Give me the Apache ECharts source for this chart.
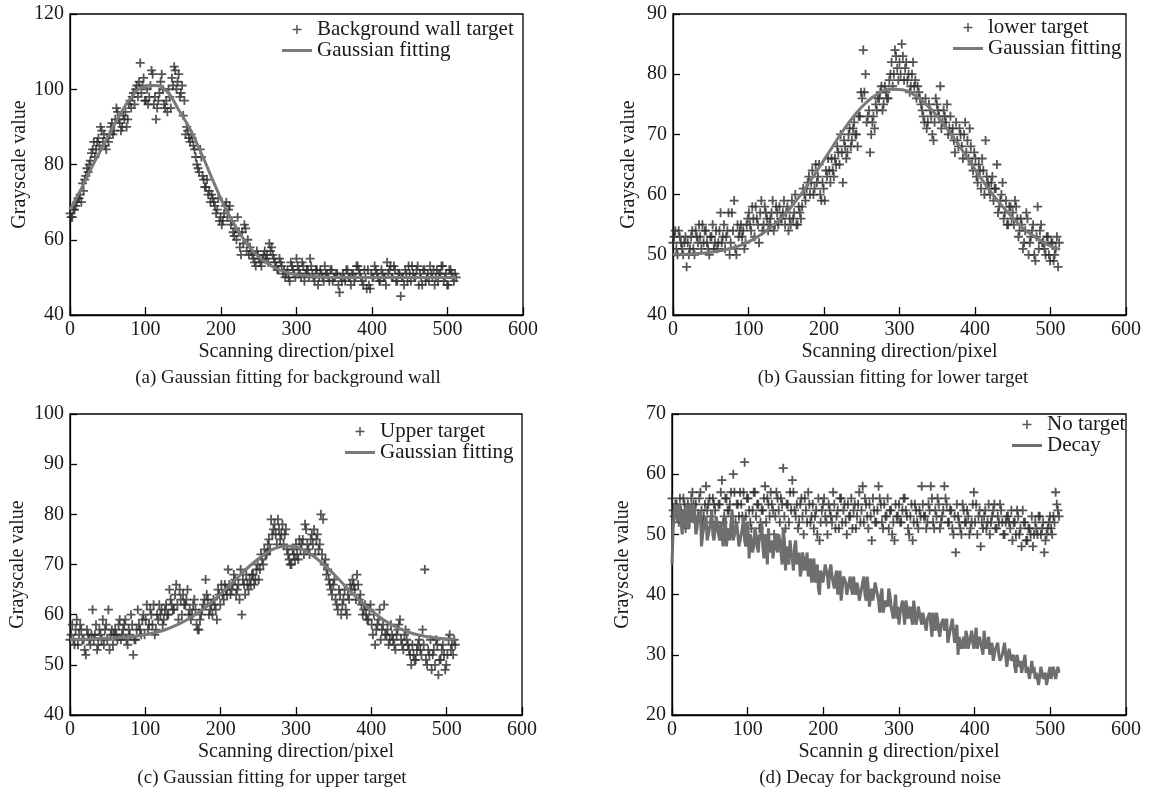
<!DOCTYPE html>
<html><head><meta charset="utf-8">
<script src="https://cdn.jsdelivr.net/npm/echarts@6/dist/echarts.min.js"></script>
<style>html,body{margin:0;padding:0;background:#fff}#c{width:1155px;height:798px}</style>
</head><body><div id="c"></div>
<script>
// sampling along the scanning direction (pixel)
const SCAN_STEP = 3;      // A samples at x = 0,3,...,510 ; B samples at x = 1.5,4.5,...,511.5
const SCAN_OFFSET_B = 1.5;
const FIT_STEP = 16;      // fitted curve samples: x = 0,16,...,512

const xTickLabels = ['0','100','200','300','400','500','600'];

// (a) Background wall target
const wallTargetA = [
67,66,68,70,71,70,73,77,78,81,
84,82,86,85,89,88,84,86,90,88,
92,94,91,90,92,90,96,95,99,100,
98,107,101,97,100,98,105,96,92,97,
102,100,95,94,98,103,106,100,104,99,
93,88,89,86,87,84,80,78,82,76,
74,72,70,71,69,68,65,64,67,70,
68,64,62,63,66,58,62,64,57,56,
57,55,53,56,54,55,57,56,59,58,
55,53,52,54,51,50,52,49,53,51,
55,52,50,53,51,52,55,51,49,52,
50,51,49,51,50,52,49,50,51,46,
49,50,52,50,48,51,50,53,51,49,
52,47,48,51,50,52,50,49,51,50,
54,52,50,53,49,51,45,50,52,49,
51,53,50,52,48,50,52,49,51,53,
50,48,52,51,53,49,51,48,52,50,
51];
const wallTargetB = [
66,68,69,71,72,75,76,79,80,83,
86,84,87,90,86,85,87,88,91,89,
95,92,89,93,94,92,97,98,96,101,
102,99,103,97,96,101,104,98,95,99,
104,96,97,100,95,101,105,102,98,101,
97,90,87,88,85,82,79,84,77,74,
76,73,72,70,67,71,66,65,69,66,
69,65,61,60,62,56,59,63,60,58,
56,54,57,55,53,56,55,54,57,56,
54,52,55,53,52,51,50,54,52,50,
53,51,54,49,52,50,53,50,52,48,
52,50,53,51,49,52,50,51,48,50,
51,49,52,50,51,49,53,52,50,48,
50,52,47,50,53,51,49,52,50,48,
51,53,50,52,49,51,50,48,51,53,
49,51,50,53,51,48,52,50,49,51,
52,50,49,51,53,50,48,52,51,49,
50];
const wallFit = [68,74,80.5,86.5,92.5,97.5,100.5,101,99.5,94.5,89,82,74.5,67.5,62,57.5,54.5,52.5,51.3,50.6,50.3,50.1,50,50,50,50,50,50,50,50,50,50,50];

// (b) lower target
const lowerTargetA = [
52,54,50,53,51,52,48,50,53,51,
54,52,53,55,54,52,50,53,51,54,
52,57,53,51,54,50,57,59,50,53,
55,54,52,56,55,58,53,56,52,59,
55,57,54,56,59,55,57,58,56,59,
57,54,55,56,60,55,57,58,60,61,
63,62,60,65,63,60,62,59,63,64,
66,63,65,67,70,62,68,67,71,69,
72,70,73,77,84,80,73,67,72,71,
74,76,78,75,77,76,80,78,84,81,
82,85,79,82,80,78,82,79,78,76,
74,72,71,75,73,69,76,74,78,72,
73,75,71,70,69,72,68,70,66,72,
69,71,65,67,63,65,61,64,69,62,
60,63,61,65,58,60,56,59,55,58,
57,59,56,54,55,52,57,50,53,55,
49,58,54,52,51,53,50,52,49,51,
48];
const lowerTargetB = [
53,51,54,52,50,53,52,51,54,50,
53,55,51,52,54,51,53,55,52,51,
54,52,55,53,57,52,54,51,55,54,
53,51,55,57,54,56,58,55,57,54,
58,56,55,57,54,58,55,56,57,55,
58,56,59,57,55,58,56,61,59,62,
60,64,61,62,65,59,61,64,66,62,
64,66,68,65,67,69,66,70,68,71,
70,68,73,76,77,72,74,70,73,75,
76,77,74,78,76,79,82,80,83,79,
80,83,81,79,77,80,78,76,77,75,
73,76,72,74,70,72,75,73,71,74,
72,70,73,71,67,69,71,68,70,67,
66,68,64,66,62,64,66,60,63,61,
62,59,61,57,59,62,57,55,58,56,
55,58,53,56,51,54,56,52,54,50,
53,51,55,52,50,53,49,52,50,53,
52];
const lowerFit = [50.1,50.1,50.2,50.4,50.7,51.2,51.9,53,54.4,56.2,58.5,61.2,64.2,67.3,70.4,73.1,75.3,76.8,77.5,77.4,76.5,74.9,72.7,70.1,67.2,64.2,61.3,58.7,56.4,54.4,52.9,51.7,50.9];

// (c) Upper target
const upperTargetA = [
55,58,54,59,56,57,55,52,56,54,
61,56,53,57,55,54,58,61,56,54,
57,55,59,56,58,55,57,60,52,55,
61,57,59,56,62,58,60,62,57,59,
60,58,61,60,65,62,61,66,59,63,
64,62,65,61,60,63,58,57,60,62,
67,63,61,60,62,59,64,66,63,65,
69,64,66,67,65,63,60,66,68,65,
66,68,67,70,69,71,73,72,75,79,
77,76,79,75,78,76,73,71,70,72,
74,71,73,75,78,74,72,76,77,75,
73,80,79,71,69,66,64,67,62,65,
60,63,61,64,66,67,65,68,63,62,
61,60,59,62,56,54,58,61,57,62,
56,54,58,55,53,57,59,54,56,55,
53,50,52,51,54,53,57,69,50,52,
49,53,55,48,51,54,49,52,56,54,
55];
const upperTargetB = [
56,55,57,54,58,55,53,57,55,56,
55,58,54,56,59,57,55,53,57,56,
56,58,55,57,59,54,56,58,55,57,
58,56,60,59,57,61,58,56,60,62,
61,59,62,60,63,61,64,62,65,60,
62,63,60,59,62,61,57,59,61,63,
64,60,62,63,61,65,62,64,66,64,
66,65,68,64,66,69,67,64,66,67,
68,66,69,67,72,70,72,74,73,76,
78,74,77,76,74,77,72,70,73,71,
72,75,74,72,77,73,75,74,72,76,
74,72,70,68,67,65,66,63,61,64,
62,65,60,63,65,66,63,66,64,60,
62,59,61,58,60,57,59,55,58,56,
57,55,56,54,56,58,55,53,57,54,
52,54,51,53,55,52,54,51,53,55,
52,50,54,51,53,52,50,55,53,52,
54];
const upperFit = [55.1,55.1,55.2,55.3,55.4,55.6,55.9,56.4,57.1,58.1,59.4,61,63,65.3,67.6,69.9,71.8,73.2,73.7,73.3,72,70.1,67.8,65.3,62.9,60.8,59,57.6,56.6,55.9,55.5,55.2,55.1];

// (d) No target / Decay
const noTargetA = [
56,53,55,52,54,56,51,55,53,57,
54,52,56,54,53,58,55,52,56,54,
51,55,59,53,56,54,57,60,52,55,
57,53,62,56,54,51,57,53,55,52,
54,58,56,53,55,50,57,54,56,61,
51,55,57,59,54,55,52,56,50,54,
57,52,55,53,50,49,54,56,52,55,
53,57,51,54,56,52,55,50,53,56,
54,51,55,52,58,56,53,55,49,54,
52,58,55,51,53,56,54,50,49,53,
55,52,56,54,51,53,49,55,52,54,
58,53,51,55,58,52,54,56,51,53,
58,55,52,54,50,47,53,51,55,52,
54,50,52,57,55,53,48,51,54,52,
50,53,55,51,52,54,50,52,53,51,
49,52,54,50,48,52,49,51,50,48,
52,50,53,51,47,50,52,51,53,57,
54];
const noTargetB = [
54,55,53,56,52,55,54,53,56,55,
55,53,57,52,55,54,56,53,55,52,
55,57,52,56,54,55,53,57,55,53,
55,57,53,56,52,54,57,55,51,54,
56,52,55,57,54,53,56,52,55,53,
55,52,54,57,53,51,55,53,56,52,
55,53,51,54,56,52,55,53,50,54,
52,55,53,51,56,54,52,55,53,51,
55,53,57,54,52,55,51,53,56,52,
54,56,52,55,53,51,54,52,55,53,
52,54,56,53,50,55,52,54,51,53,
55,53,52,54,56,51,53,55,52,54,
56,52,54,51,53,55,52,50,54,52,
53,51,55,52,50,54,52,53,51,55,
52,54,51,53,55,52,50,53,52,54,
52,50,53,51,54,52,49,51,53,50,
51,53,50,52,49,51,53,50,52,55,
53];
const decayA = [
45,54,53,55,52,54,51,53,55,52,
54,51,52,48,51,53,50,52,50,51,
53,49,52,50,48,51,52,49,51,50,
48,51,49,52,46,49,48,50,47,49,
48,50,45,47,49,46,48,50,47,51,
44,47,49,46,48,45,47,44,46,45,
43,46,44,42,45,40,43,42,44,41,
45,42,43,40,44,41,43,40,42,41,
43,40,41,39,42,40,43,38,41,39,
42,39,40,37,39,38,40,37,38,36,
35,38,37,39,36,38,35,37,36,38,
35,37,34,36,35,37,34,36,33,35,
34,36,33,35,34,32,30,33,32,31,
33,32,34,31,34.5,32,33,30,32,31,
30,32,29,31,30,29,31,30,28,30,
29,28,30,28,27,29,27,28,26,27,
26,27,25,27,26,25,27,26,28,26,
28];
const decayB = [
51,55,52,54,50,53,55,51,53,55,
50,53,54,50,52,49,51,54,49,53,
50,52,48,53,51,49,54,50,52,48,
50,53,48,51,50,47,51,48,50,52,
46,49,51,48,46,50,47,49,45,49,
48,45,47,44,49,46,43,47,44,47,
45,42,46,43,41,44,42,45,43,44,
43,41,44,42,39,43,42,41,43,40,
41,42,39,41,43,39,41,40,39,42,
40,37,41,38,39,41,38,36,40,38,
37,39,35,38,37,36,39,35,38,36,
37,35,36,37,33,35,37,34,35,36,
35,32,34,36,32,35,33,31,33,34,
31,33,32,33,31,33,31,34,31,33,
31,29,31,32,29,30,32,28,31,29,
30,27,29,29,28,30,28,26,29,28,
27,25,28,26,27,25,28,26,27,27,
27];

function pts(arr, step, off){ return arr.map((v,i)=>[i*step+(off||0), v]); }
function twoSets(a, b){ return pts(a, SCAN_STEP, 0).concat(pts(b, SCAN_STEP, SCAN_OFFSET_B)); }
function interleave(a, b){
  const out = [];
  for(let i=0;i<a.length;i++){
    out.push([i*SCAN_STEP, a[i]]);
    if(i<b.length) out.push([i*SCAN_STEP+SCAN_OFFSET_B, b[i]]);
  }
  return out;
}

const FONT = "'Liberation Serif','Times New Roman',serif";
const INK = '#1a1a1a';
const DOT = '#2b2b2b';
const CURVE = '#7a7a7a';
const DECAY = '#6e6e6e';
const PLUS = 'path://M4,0H6V4H10V6H6V10H4V6H0V4H4Z';
const PLUS_THIN = 'path://M3.75,0H5.25V3.75H9V5.25H5.25V9H3.75V5.25H0V3.75H3.75Z';
const BAR = 'path://M0,0H30V3H0Z';

const grids = [
  {left:70, top:14, width:453, height:301},
  {left:673, top:14, width:453, height:301},
  {left:70, top:414, width:452, height:301},
  {left:672, top:414, width:454, height:301}
];
const yRanges = [[40,120,20],[40,90,10],[40,100,10],[20,70,10]];
const xNames = ['Scanning direction/pixel','Scanning direction/pixel','Scanning direction/pixel','Scannin g direction/pixel'];
const yNameGaps = [36,34,42,39];
const captions = ['(a) Gaussian fitting for background wall','(b) Gaussian fitting for lower target','(c) Gaussian fitting for upper target','(d) Decay for background noise'];
const captionX = [288,893,272,880];
const legendPos = [[282,19],[953,17],[345,421],[1012,414]];

const txt = {fontFamily:FONT, fontSize:20, color:INK};

const option = {
  animation:false,
  backgroundColor:'#fff',
  grid: grids.map(g=>Object.assign({show:true, borderColor:'#000', borderWidth:1.3, backgroundColor:'transparent'}, g)),
  xAxis: grids.map((g,i)=>({
    gridIndex:i, type:'value', min:0, max:600, interval:100,
    name:xNames[i], nameLocation:'middle', nameGap:27,
    nameTextStyle:Object.assign({}, txt),
    axisLine:{show:true, lineStyle:{color:'#000', width:1.3}},
    axisTick:{show:true, inside:true, length:8, lineStyle:{color:'#000', width:1.3}},
    axisLabel:Object.assign({margin:5, formatter:v=>xTickLabels[v/100]}, txt),
    splitLine:{show:false}
  })),
  yAxis: grids.map((g,i)=>({
    gridIndex:i, type:'value', min:yRanges[i][0], max:yRanges[i][1], interval:yRanges[i][2],
    name:'Grayscale value', nameLocation:'middle', nameGap:yNameGaps[i],
    nameTextStyle:Object.assign({}, txt),
    axisLine:{show:true, lineStyle:{color:'#000', width:1.3}},
    axisTick:{show:true, inside:true, length:7, lineStyle:{color:'#000', width:1.3}},
    axisLabel:Object.assign({margin:6}, txt),
    splitLine:{show:false}
  })),
  legend: [
    {data:[{name:'Background wall target', icon:PLUS_THIN},{name:'Gaussian fitting', icon:BAR}]},
    {data:[{name:'lower target', icon:PLUS_THIN},{name:'Gaussian fitting', icon:BAR}]},
    {data:[{name:'Upper target', icon:PLUS_THIN},{name:'Gaussian fitting', icon:BAR}]},
    {data:[{name:'No target', icon:PLUS_THIN},{name:'Decay', icon:BAR}]}
  ].map((l,i)=>Object.assign(l,{
    orient:'vertical', left:legendPos[i][0], top:legendPos[i][1],
    itemWidth:30, itemHeight:9, itemGap:0, padding:0, selectedMode:false,
    textStyle:Object.assign({}, txt, {fontSize:21})
  })),
  series: [
    {name:'Background wall target', type:'scatter', xAxisIndex:0, yAxisIndex:0, data:twoSets(wallTargetA, wallTargetB)},
    {name:'Gaussian fitting', type:'line', xAxisIndex:0, yAxisIndex:0, data:pts(wallFit,FIT_STEP)},
    {name:'lower target', type:'scatter', xAxisIndex:1, yAxisIndex:1, data:twoSets(lowerTargetA, lowerTargetB)},
    {name:'Gaussian fitting', type:'line', xAxisIndex:1, yAxisIndex:1, data:pts(lowerFit,FIT_STEP)},
    {name:'Upper target', type:'scatter', xAxisIndex:2, yAxisIndex:2, data:twoSets(upperTargetA, upperTargetB)},
    {name:'Gaussian fitting', type:'line', xAxisIndex:2, yAxisIndex:2, data:pts(upperFit,FIT_STEP)},
    {name:'No target', type:'scatter', xAxisIndex:3, yAxisIndex:3, data:twoSets(noTargetA, noTargetB)},
    {name:'Decay', type:'line', xAxisIndex:3, yAxisIndex:3, data:interleave(decayA, decayB), smooth:false}
  ].map(s=>{
    if(s.type==='scatter') return Object.assign(s,{symbol:PLUS, symbolSize:9, itemStyle:{color:DOT}, z:3});
    const isDecay = s.name==='Decay';
    return Object.assign({smooth:true}, s, {symbol:'none', lineStyle:{color:isDecay?DECAY:CURVE, width:isDecay?3:3}, itemStyle:{color:isDecay?DECAY:CURVE}, z:4});
  }),
  graphic: captions.map((c,i)=>({
    type:'text', x:captionX[i], y:grids[i].top+grids[i].height+63,
    style:{text:c, font:'19px '+FONT, fill:INK, textAlign:'center', textVerticalAlign:'middle'}
  }))
};

const chart = echarts.init(document.getElementById('c'), null, {renderer:'canvas'});
chart.setOption(option);
</script>
</body></html>
